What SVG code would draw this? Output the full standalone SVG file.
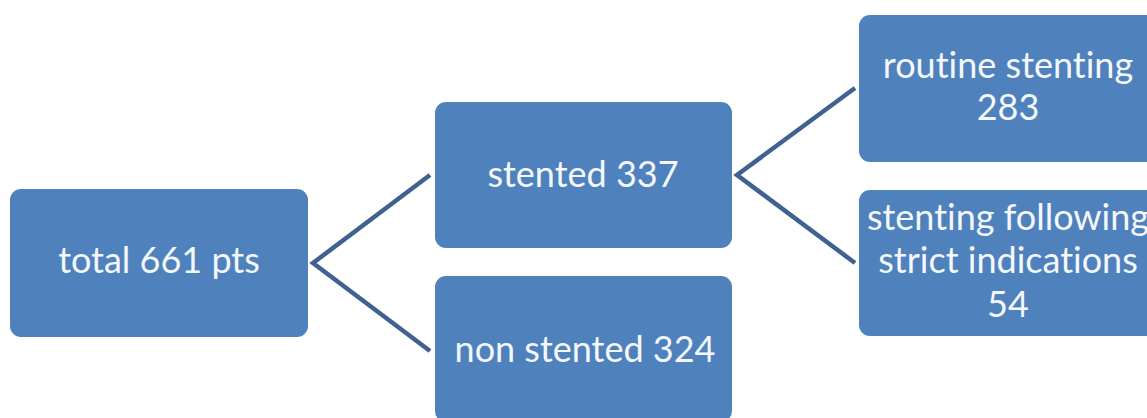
<svg xmlns="http://www.w3.org/2000/svg" width="1147" height="418" viewBox="0 0 1147 418">
<style>
.box{fill:#4f81bd;}
.t{font-family:"Lato","Liberation Sans",sans-serif;font-size:36px;fill:#f4f7fb;text-anchor:middle;font-variant-ligatures:none;font-feature-settings:"liga" 0;}
.c{stroke:#3f6290;stroke-width:4.5;fill:none;stroke-linejoin:miter;}
</style>
<rect width="1147" height="418" fill="#ffffff"/>
<g id="connectors">
<polyline class="c" points="430,175 313,263 430,351"/>
<polyline class="c" points="855,88 737,175 855,263"/>
</g>
<g id="total">
<rect class="box" x="10" y="189" width="298" height="148" rx="11"/>
<text class="t" x="159" y="273">total 661 pts</text>
</g>
<g id="stented">
<rect class="box" x="435" y="102" width="297" height="146" rx="11"/>
<text class="t" x="583" y="187">stented 337</text>
</g>
<g id="nonstented">
<rect class="box" x="435" y="276" width="297" height="146" rx="11"/>
<text class="t" x="585" y="362">non stented 324</text>
</g>
<g id="routine">
<rect class="box" x="859" y="15" width="298" height="147" rx="11"/>
<text class="t" x="1008" y="78">routine stenting</text>
<text class="t" x="1008" y="120">283</text>
</g>
<g id="strict">
<rect class="box" x="859" y="190" width="298" height="146" rx="11"/>
<text class="t" x="1008" y="230">stenting following</text>
<text class="t" x="1008" y="273">strict indications</text>
<text class="t" x="1008" y="317">54</text>
</g>
</svg>
